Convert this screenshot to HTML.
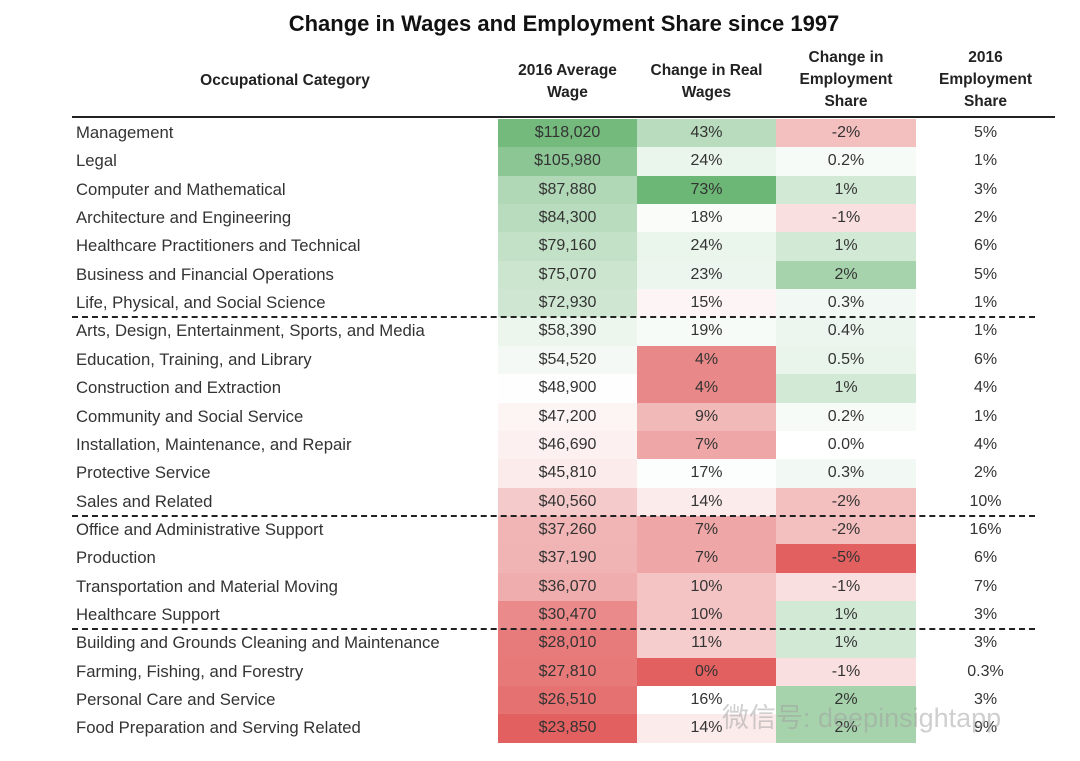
<!DOCTYPE html>
<html><head><meta charset="utf-8">
<style>
body{margin:0;background:#fff;width:1080px;height:761px;overflow:hidden;font-family:"Liberation Sans","Noto Sans CJK SC",sans-serif;color:#333}
#title{position:absolute;left:0;width:1128px;top:11px;text-align:center;font-size:22px;font-weight:bold;color:#111}
.hd{position:absolute;font-weight:bold;font-size:15.5px;text-align:center;line-height:22px;color:#222}
.cell{position:absolute;height:28.4px;line-height:28.4px;font-size:16px;text-align:center}
.lab{position:absolute;left:76px;height:28.4px;line-height:28.4px;font-size:16.7px}
.line{position:absolute;left:72px}
</style></head><body>
<div id="title">Change in Wages and Employment Share since 1997</div>
<div class="hd" style="left:72px;width:426px;top:70px">Occupational Category</div>
<div class="hd" style="left:498px;width:139px;top:60px">2016 Average<br>Wage</div>
<div class="hd" style="left:637px;width:139px;top:60px">Change in Real<br>Wages</div>
<div class="hd" style="left:776px;width:140px;top:47px">Change in<br>Employment<br>Share</div>
<div class="hd" style="left:916px;width:139px;top:47px">2016<br>Employment<br>Share</div>
<div class="line" style="top:116px;width:983px;border-top:2px solid #222"></div>
<div id="tbl"></div>
<div style="position:absolute;left:722px;top:696px;font-size:27px;color:rgba(160,160,160,0.5)">微信号: deepinsightapp</div>
<script>
const categories=["Management","Legal","Computer and Mathematical","Architecture and Engineering","Healthcare Practitioners and Technical","Business and Financial Operations","Life, Physical, and Social Science","Arts, Design, Entertainment, Sports, and Media","Education, Training, and Library","Construction and Extraction","Community and Social Service","Installation, Maintenance, and Repair","Protective Service","Sales and Related","Office and Administrative Support","Production","Transportation and Material Moving","Healthcare Support","Building and Grounds Cleaning and Maintenance","Farming, Fishing, and Forestry","Personal Care and Service","Food Preparation and Serving Related"];
const wages=[118020,105980,87880,84300,79160,75070,72930,58390,54520,48900,47200,46690,45810,40560,37260,37190,36070,30470,28010,27810,26510,23850];
const realWageChange=[43,24,73,18,24,23,15,19,4,4,9,7,17,14,7,7,10,10,11,0,16,14];
const empChange=[-2,0.2,1,-1,1,2,0.3,0.4,0.5,1,0.2,0.0,0.3,-2,-2,-5,-1,1,1,-1,2,2];
const empChangeLabels=["-2%","0.2%","1%","-1%","1%","2%","0.3%","0.4%","0.5%","1%","0.2%","0.0%","0.3%","-2%","-2%","-5%","-1%","1%","1%","-1%","2%","2%"];
const empShareLabels=["5%","1%","3%","2%","6%","5%","1%","1%","6%","4%","1%","4%","2%","10%","16%","6%","7%","3%","3%","0.3%","3%","9%"];
const groupBreaks=[7,14,18];
const rowTop=119,rowH=28.35;
function mix(a,b,t){t=Math.max(0,Math.min(1,t));return `rgb(${a.map((v,i)=>Math.round(v+(b[i]-v)*t)).join(',')})`;}
const W=[255,255,255],G=[108,182,118],R=[226,96,96];
function div(v,mid,lo,hi){return v>=mid?mix(W,G,(v-mid)/(hi-mid)):mix(W,R,(mid-v)/(mid-lo));}
const tbl=document.getElementById('tbl');
function add(cls,left,w,top,txt,bg,name){const d=document.createElement('div');d.className=cls;d.style.left=left+'px';if(w)d.style.width=w+'px';d.style.top=top+'px';if(bg)d.style.background=bg;d.textContent=txt;


tbl.appendChild(d);}
categories.forEach((c,i)=>{const y=rowTop+i*rowH;
add('lab',76,0,y,c,null,'category-label');
add('cell',498,139,y,'$'+wages[i].toLocaleString('en-US'),div(wages[i],49000,23850,122000),'wage-cell');
add('cell',637,139,y,realWageChange[i]+'%',div(realWageChange[i],16,0,73),'real-wage-cell');
add('cell',776,140,y,empChangeLabels[i],div(empChange[i],0,-5,3.3),'emp-change-cell');
add('cell',916,139,y,empShareLabels[i],null,'emp-share-cell');});
groupBreaks.forEach(b=>{const d=document.createElement('div');d.className='line';d.style.top=(rowTop+b*rowH-1)+'px';d.style.width='963px';d.style.borderTop='2px dashed #222';


tbl.appendChild(d);});
</script>
</body></html>
